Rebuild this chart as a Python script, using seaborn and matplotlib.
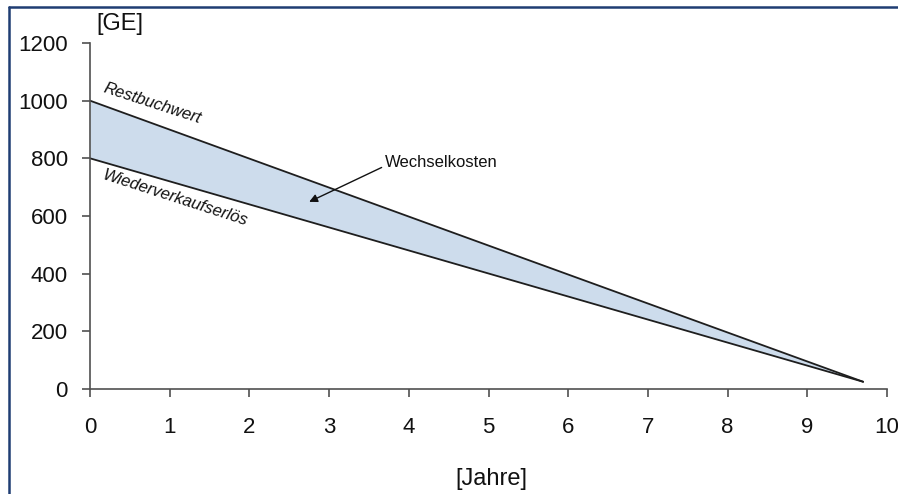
import matplotlib
matplotlib.use("Agg")
import matplotlib.pyplot as plt
import seaborn as sns
import pandas as pd
from matplotlib.lines import Line2D

# Data
jahre = [0, 9.7]
restbuchwert = [1000, 25]
wiederverkauf = [800, 25]
x_ticks = [0, 1, 2, 3, 4, 5, 6, 7, 8, 9, 10]
y_ticks = [0, 200, 400, 600, 800, 1000, 1200]

sns.set_theme(style="white")
plt.rcParams['font.family'] = ['Liberation Sans', 'DejaVu Sans']

df = pd.DataFrame({
    "Jahre": jahre * 2,
    "Wert": restbuchwert + wiederverkauf,
    "Serie": ["Restbuchwert"] * 2 + ["Wiederverkaufserlös"] * 2,
})

fig = plt.figure(figsize=(8.98, 4.94), dpi=100)
ax = fig.add_axes([0.1002, 0.2126, 0.8876, 0.7004])

ax.fill_between(jahre, wiederverkauf, restbuchwert, color="#cddcec", lw=0, zorder=1)
sns.lineplot(data=df, x="Jahre", y="Wert", hue="Serie",
             palette=["#1e1e1e", "#1e1e1e"], linewidth=1.3, legend=False, ax=ax, zorder=2)

ax.set_xlim(0, 10)
ax.set_ylim(0, 1200)
ax.set_xticks(x_ticks)
ax.set_yticks(y_ticks)
ax.set_xlabel("")
ax.set_ylabel("")
for s in ["top", "right"]:
    ax.spines[s].set_visible(False)
for s in ["left", "bottom"]:
    ax.spines[s].set_color("#505050")
    ax.spines[s].set_linewidth(1.2)
ax.tick_params(axis="both", which="major", direction="out", length=6, width=1.2,
               color="#505050", labelsize=16, labelcolor="#111111",
               left=True, bottom=True)
ax.tick_params(axis="y", pad=10)
ax.tick_params(axis="x", pad=14)

ax.text(0.78, 990, "Restbuchwert", rotation=-18, style="italic", fontsize=12,
        ha="center", va="center", color="#111111", rotation_mode="anchor")
ax.text(1.07, 662, "Wiederverkaufserlös", rotation=-18, style="italic", fontsize=12,
        ha="center", va="center", color="#111111", rotation_mode="anchor")
ax.annotate("Wechselkosten", xy=(2.75, 649), xytext=(3.70, 784),
            fontsize=12, ha="left", va="center", color="#111111",
            arrowprops=dict(arrowstyle="-|>", color="#111111", lw=1.0,
                            shrinkA=0, shrinkB=0, mutation_scale=12,
                            relpos=(0.0, 0.3)))

fig.text(120 / 898, 1 - 24 / 494, "[GE]", fontsize=17, ha="center", va="center", color="#111111")
fig.text(491 / 898, 1 - 479 / 494, "[Jahre]", fontsize=17, ha="center", va="center", color="#111111")

# Frame (top and left edges)
fig.add_artist(Line2D([9 / 898, 1.0], [1 - 7 / 494, 1 - 7 / 494], transform=fig.transFigure,
                      color="#1f3d73", lw=1.8))
fig.add_artist(Line2D([9 / 898, 9 / 898], [0.0, 1 - 7 / 494], transform=fig.transFigure,
                      color="#1f3d73", lw=1.8))

fig.savefig("out.png", dpi=100)
